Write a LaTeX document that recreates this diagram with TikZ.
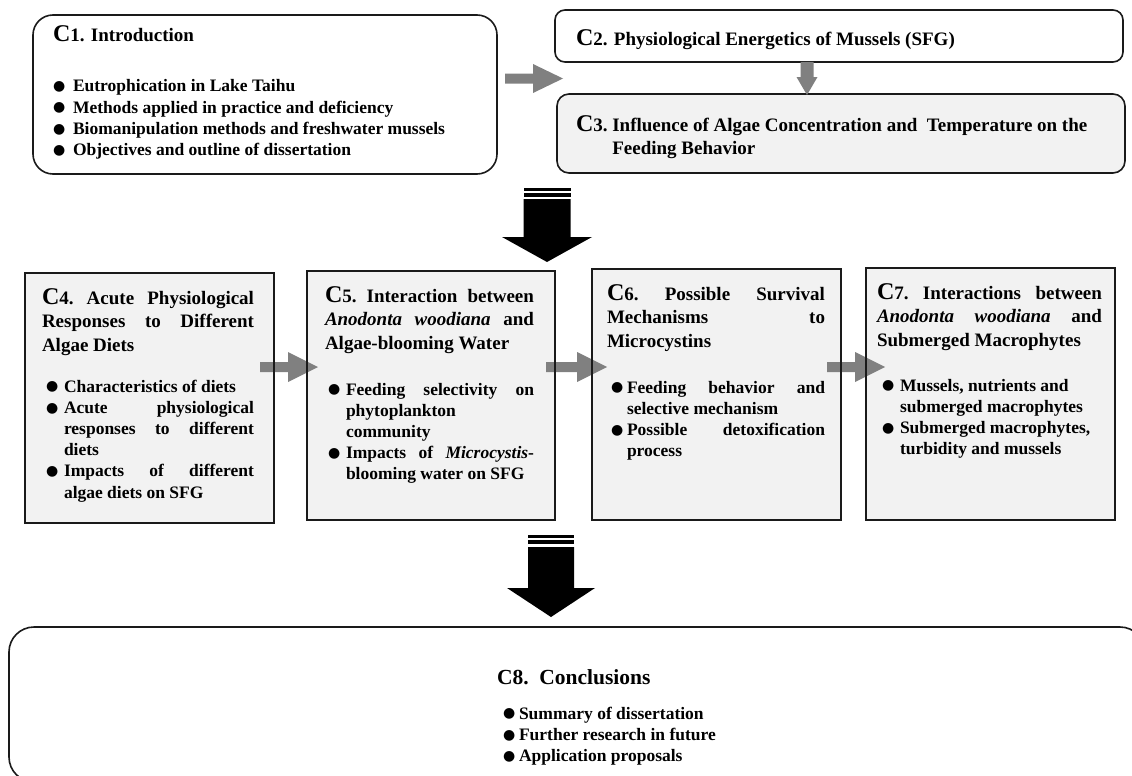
\documentclass[tikz,border=0pt]{standalone}
\usepackage{fontspec}
\setmainfont{Liberation Serif}
\newfontfamily\dvfont{DejaVu Sans}
\usetikzlibrary{calc}
\hyphenpenalty=10000
\exhyphenpenalty=0
\tolerance=10000
\hbadness=10000
\definecolor{boxfill}{HTML}{F2F2F2}
\definecolor{arrowgray}{HTML}{808080}
\definecolor{edge}{HTML}{1A1A1A}
\newcommand\bigC{{\fontsize{24}{24}\selectfont C}}
\newcommand\hfont{\bfseries\fontsize{19}{23.7}\selectfont}
\newcommand\bfont{\bfseries\fontsize{17.5}{21.2}\selectfont}
\newcommand\blt[1]{\makebox[#1][l]{\raisebox{1.2pt}{\dvfont\fontsize{14}{14}\selectfont ●}}}
\newcommand\bitem[2]{\hangindent=#1\hangafter=1\noindent\blt{#1}#2\par}
\newcommand\hd[2]{\parbox[t]{#1}{\hfont #2}}
\newcommand\lst[2]{\parbox[t]{#1}{\bfont #2}}
\newcommand\hfat[5]{%
\fill[arrowgray] ($(#1)+(0,-#3)$) -- ($(#2)+(-#5,-#3)$) -- ($(#2)+(-#5,-#4)$) -- (#2) -- ($(#2)+(-#5,#4)$) -- ($(#2)+(-#5,#3)$) -- ($(#1)+(0,#3)$) -- cycle;}
\newcommand\vfat[6]{%
\fill[#6] ($(#1)+(-#3,0)$) -- ($(#2)+(-#3,-#5)$) -- ($(#2)+(-#4,-#5)$) -- (#2) -- ($(#2)+(#4,-#5)$) -- ($(#2)+(#3,-#5)$) -- ($(#1)+(#3,0)$) -- cycle;}
\begin{document}
\begin{tikzpicture}[x=1pt,y=-1pt,
  every node/.style={inner sep=0pt, outer sep=0pt},
  roundbox/.style={draw=edge, line width=1.6pt, fill=white, anchor=north west},
  sqfill/.style={fill=boxfill, anchor=north west},
  sqborder/.style={draw=edge, line width=2pt},
  txt/.style={anchor=base west}]
\useasboundingbox (0,0) rectangle (1132,776);
\clip (0,0) rectangle (1132,776);
\fill[white] (0,0) rectangle (1132,776);

% top row
\node[roundbox, rounded corners=20pt, minimum width=464pt, minimum height=159pt] (c1) at (33,15) {};
\node[roundbox, rounded corners=10pt, minimum width=568pt, minimum height=52pt] (c2) at (555,10) {};
\node[roundbox, rounded corners=12pt, fill=boxfill, minimum width=568pt, minimum height=79pt] (c3) at (557,94) {};

% middle row fills
\node[sqfill, minimum width=249pt, minimum height=250pt] (c4) at (25,273) {};
\node[sqfill, minimum width=248pt, minimum height=249pt] (c5) at (307,271) {};
\node[sqfill, minimum width=249pt, minimum height=251pt] (c6) at (592,269) {};
\node[sqfill, minimum width=249pt, minimum height=252pt] (c7) at (866,268) {};

% bottom box
\node[roundbox, rounded corners=25pt, minimum width=1136pt, minimum height=155pt] (c8) at (9,627) {};

% gray arrows
\coordinate (a1s) at ($(c1.north east)+(8,63.5)$);
\coordinate (a1t) at ($(c3.north west)+(6,-15.5)$);
\hfat{a1s}{a1t}{5}{14.5}{30}
\coordinate (a23s) at ($(c2.south west)+(252,0)$);
\coordinate (a23t) at ($(c3.north west)+(250,1)$);
\vfat{a23s}{a23t}{6.5}{10.5}{18}{arrowgray}
\coordinate (a45s) at ($(c4.north east)+(-14,94)$);
\coordinate (a45t) at ($(c5.north west)+(11,96)$);
\hfat{a45s}{a45t}{5}{15}{30}
\coordinate (a56s) at ($(c5.north east)+(-9,96)$);
\coordinate (a56t) at ($(c6.north west)+(15,98)$);
\hfat{a56s}{a56t}{5}{15}{30}
\coordinate (a67s) at ($(c6.north east)+(-14,98)$);
\coordinate (a67t) at ($(c7.north west)+(19,99)$);
\hfat{a67s}{a67t}{5}{15}{30}

% borders of middle row
\draw[sqborder] (c4.north west) rectangle (c4.south east);
\draw[sqborder] (c5.north west) rectangle (c5.south east);
\draw[sqborder] (c6.north west) rectangle (c6.south east);
\draw[sqborder] (c7.north west) rectangle (c7.south east);

% black arrows
\coordinate (b1s) at (547,199);
\coordinate (b1t) at (547,262);
\vfat{b1s}{b1t}{23.5}{45}{25}{black}
\fill[black] (523.5,188) rectangle (570.5,190.5);
\fill[black] (523.5,193) rectangle (570.5,196.5);
\coordinate (b2s) at (551,547);
\coordinate (b2t) at (551,617);
\vfat{b2s}{b2t}{23}{44}{29}{black}
\fill[black] (528,535) rectangle (574,537.5);
\fill[black] (528,540) rectangle (574,543.5);

% texts
\node[txt] (t1) at (53,42) {\hfont\bigC1. Introduction};
\node[txt] (l1) at (53,92) {\lst{430pt}{\raggedright
  \bitem{20pt}{Eutrophication in Lake Taihu}
  \bitem{20pt}{Methods applied in practice and deficiency}
  \bitem{20pt}{Biomanipulation methods and freshwater mussels}
  \bitem{20pt}{Objectives and outline of dissertation}}};

\node[txt] (t2) at (576,46) {\hfont\bigC2. Physiological Energetics of Mussels (SFG)};
\node[txt] (t3) at (576,131) {\hfont\bigC3.\ \parbox[t]{500pt}{\hfont\raggedright Influence of Algae Concentration and\ \ Temperature on the\\Feeding Behavior}};

\node[txt] (t4) at (42,304) {\hd{212pt}{\bigC4.\ Acute Physiological\linebreak Responses to Different\linebreak Algae Diets}};
\node[txt] (l4) at (46,392) {\lst{208pt}{%
  \bitem{18pt}{Characteristics of diets}
  \bitem{18pt}{Acute physiological\linebreak responses to different\linebreak diets}
  \bitem{18pt}{Impacts of different\linebreak algae diets on SFG}}};

\node[txt] (t5) at (325,302) {\hd{209pt}{\bigC5.\ Interaction between\linebreak \textit{Anodonta woodiana} and\linebreak Algae-blooming Water}};
\node[txt] (l5) at (328,395) {\lst{206pt}{%
  \bitem{18pt}{Feeding selectivity on\linebreak phytoplankton\linebreak community}
  \bitem{18pt}{Impacts of \textit{Microcystis}-\linebreak blooming water on SFG}}};

\node[txt] (t6) at (607,300) {\hd{218pt}{\bigC6.\ Possible Survival\linebreak Mechanisms to\linebreak Microcystins}};
\node[txt] (l6) at (611,393) {\lst{214pt}{%
  \bitem{16pt}{Feeding behavior and\linebreak selective mechanism}
  \bitem{16pt}{Possible detoxification\linebreak process}}};

\node[txt] (t7) at (877,299) {\hd{225pt}{\bigC7.\ Interactions between\linebreak \textit{Anodonta woodiana} and\linebreak Submerged Macrophytes}};
\node[txt] (l7) at (882,391) {\lst{220pt}{\raggedright
  \bitem{18pt}{Mussels, nutrients and\newline submerged macrophytes}
  \bitem{18pt}{Submerged macrophytes,\newline turbidity and mussels}}};

\node[txt] (t8) at (497,684) {\bfseries\fontsize{21.5}{24}\selectfont C8.\ \ Conclusions};
\node[txt] (l8) at (503,719) {\lst{300pt}{\raggedright
  \bitem{16pt}{Summary of dissertation}
  \bitem{16pt}{Further research in future}
  \bitem{16pt}{Application proposals}}};
\end{tikzpicture}
\end{document}
